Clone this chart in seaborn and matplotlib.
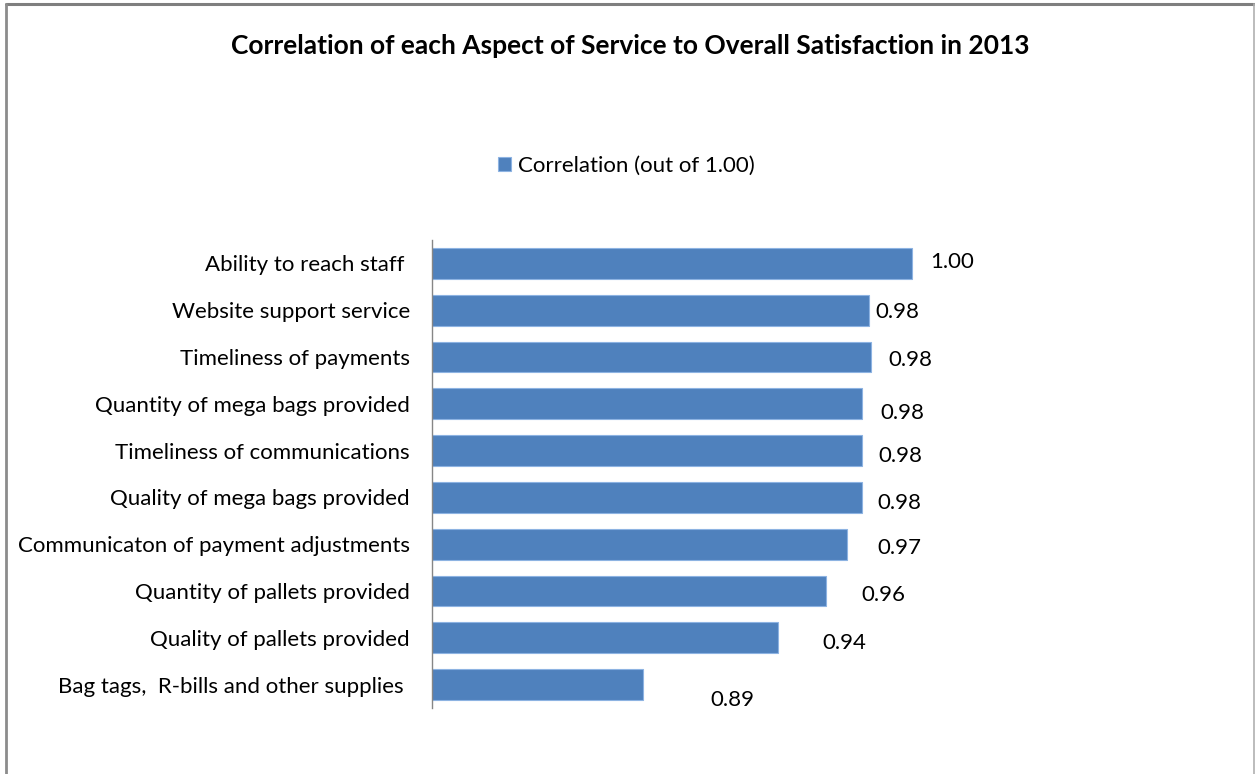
import matplotlib
matplotlib.use("Agg")
import matplotlib.pyplot as plt
from matplotlib.lines import Line2D
import seaborn as sns
import pandas as pd

# Aspects of service, listed top to bottom
aspects = [
    "Ability to reach staff ",
    "Website support service",
    "Timeliness of payments",
    "Quantity of mega bags provided",
    "Timeliness of communications",
    "Quality of mega bags provided",
    "Communicaton of payment adjustments",
    "Quantity of pallets provided",
    "Quality of pallets provided",
    "Bag tags,  R-bills and other supplies ",
]
# Correlation of each aspect with overall satisfaction
correlation = [1.000, 0.982, 0.983, 0.979, 0.979, 0.979, 0.973, 0.964, 0.944, 0.888]
series_name = "Correlation (out of 1.00)"
title = "Correlation of each Aspect of Service to Overall Satisfaction in 2013"

# Hand-placed nudges of the value labels (pixels right, pixels down)
label_nudge = [(18, -1), (7, 2), (17, 3), (19, 9), (17, 5),
               (16, 6), (30, 4), (36, 4), (45, 5), (67, 15)]

df = pd.DataFrame({"aspect": aspects, "corr": correlation})

sns.set_theme(style="white")
plt.rcParams["font.family"] = ["Lato", "DejaVu Sans"]

W, H, DPI = 1255, 774, 100
fig = plt.figure(figsize=(W / DPI, H / DPI), dpi=DPI)
ax = fig.add_axes([432 / W, 1 - 708 / H, 720 / W, 468 / H])

bar_color = "#4F81BD"
sns.barplot(data=df, x="corr", y="aspect", orient="h", color=bar_color,
            saturation=1, width=0.66, edgecolor="#8DB3E2", linewidth=0.8,
            label=series_name, ax=ax)

ax.set_xlim(0.80, 1.10)
ax.set_ylim(len(aspects) - 0.5, -0.5)
ax.set_xlabel("")
ax.set_ylabel("")
ax.set_xticks([])
for side in ("top", "right", "bottom"):
    ax.spines[side].set_visible(False)
ax.spines["left"].set_color("#868686")
ax.spines["left"].set_linewidth(1.0)
ax.tick_params(axis="y", length=0, pad=16, labelsize=16, labelcolor="black")

for i, (v, (dx, dy)) in enumerate(zip(correlation, label_nudge)):
    ax.annotate(f"{v:.2f}", xy=(v, i), xytext=(dx, -dy),
                textcoords="offset pixels", ha="left", va="center",
                fontsize=16, color="black")

# Legend above the plot area
ax.legend(loc="center", bbox_to_anchor=(626 / W, 1 - 166 / H),
          bbox_transform=fig.transFigure, frameon=False, fontsize=16,
          handlelength=0.6, handleheight=0.6, handletextpad=0.3,
          borderpad=0, labelcolor="black")

fig.text(630 / W, 1 - 46 / H, title, ha="center", va="center",
         fontsize=19, fontweight="bold", color="black")

# Chart frame (top, left, right edges)
frame = "#8C8C8C"
fig.add_artist(Line2D([6 / W, 1253.5 / W], [1 - 4 / H, 1 - 4 / H],
                      transform=fig.transFigure, color="#7F7F7F", lw=2.2))
fig.add_artist(Line2D([6 / W, 6 / W], [0, 1 - 4 / H],
                      transform=fig.transFigure, color=frame, lw=2.0))
fig.add_artist(Line2D([1253.5 / W, 1253.5 / W], [0, 1 - 4 / H],
                      transform=fig.transFigure, color="#B0B0B0", lw=1.2))

fig.savefig("out.png", dpi=DPI, facecolor="white")
